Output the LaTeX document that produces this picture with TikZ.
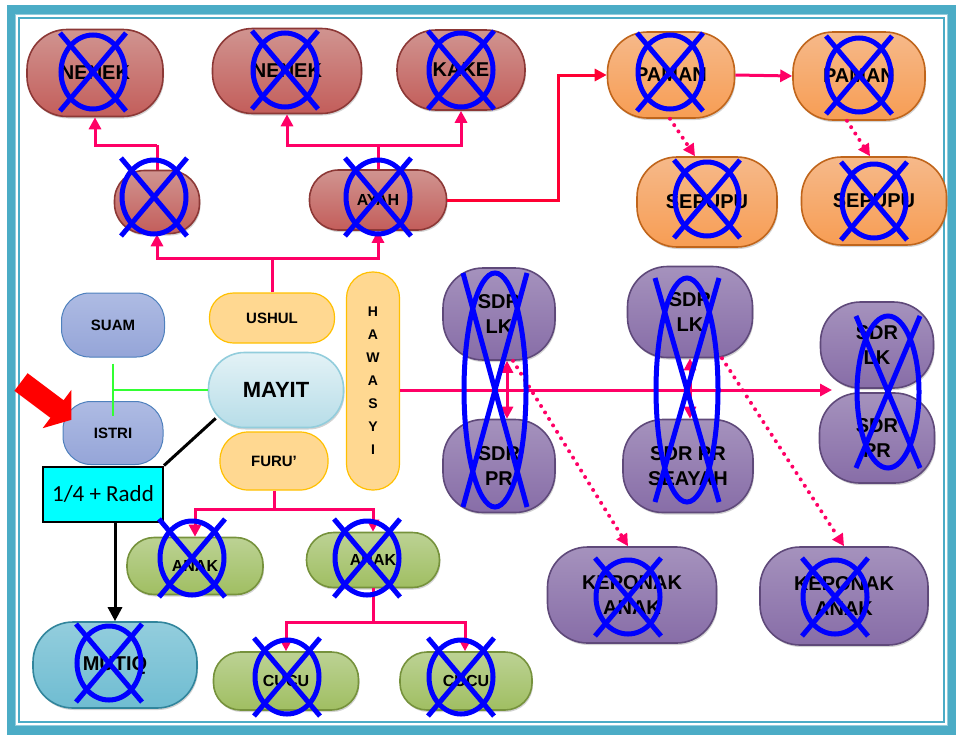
\documentclass[tikz,border=0pt]{standalone}
\usepackage{fontspec}
\setmainfont{Liberation Sans}
\newfontfamily\carlito{Carlito}
\usetikzlibrary{arrows.meta,shadows}
\definecolor{frdTeal}{HTML}{4BACC6}
\definecolor{frdTealDark}{HTML}{31859C}
\definecolor{frdRed}{HTML}{C0504D}
\definecolor{frdRedDark}{HTML}{8C3836}
\definecolor{frdRedLight}{HTML}{D09490}
\definecolor{frdOrange}{HTML}{F79646}
\definecolor{frdOrangeDark}{HTML}{C0651B}
\definecolor{frdOrangeLight}{HTML}{F6B98A}
\definecolor{frdPurple}{HTML}{8064A2}
\definecolor{frdPurpleDark}{HTML}{5F497A}
\definecolor{frdPurpleLight}{HTML}{A592BD}
\definecolor{frdGreen}{HTML}{9BBB59}
\definecolor{frdGreenDark}{HTML}{76923C}
\definecolor{frdGreenLight}{HTML}{BCD294}
\definecolor{frdLav}{HTML}{95A5D8}
\definecolor{frdLavDark}{HTML}{4F81BD}
\definecolor{frdLavLight}{HTML}{AEBBE3}
\definecolor{frdSand}{HTML}{FFD891}
\definecolor{frdSandDark}{HTML}{FFC000}
\definecolor{frdIce}{HTML}{B7DDE8}
\definecolor{frdIceLight}{HTML}{E3F2F6}
\definecolor{frdIceDark}{HTML}{92CDDC}
\definecolor{frdPink}{HTML}{FF0066}
\definecolor{frdLine}{HTML}{FF0033}
\definecolor{frdCross}{HTML}{0000FF}
\definecolor{frdLime}{HTML}{33FF33}
\definecolor{frdCyan}{HTML}{00FFFF}
\tikzset{
  frd pill/.style={draw, line width=0.8pt, rounded corners=20pt, align=center, inner sep=1pt,
    font=\bfseries\fontsize{10}{12.5}\selectfont,
    drop shadow={opacity=0.35, shadow xshift=0.5pt, shadow yshift=-1pt}},
  frd red/.style={frd pill, draw=frdRedDark, top color=frdRedLight, middle color=frdRed, bottom color=frdRed!80!frdRedLight},
  frd orange/.style={frd pill, draw=frdOrangeDark, top color=frdOrangeLight, middle color=frdOrange, bottom color=frdOrange!80!frdOrangeLight},
  frd purple/.style={frd pill, draw=frdPurpleDark, top color=frdPurpleLight, middle color=frdPurple, bottom color=frdPurple!80!frdPurpleLight},
  frd green/.style={frd pill, rounded corners=13.5pt, draw=frdGreenDark, top color=frdGreenLight, middle color=frdGreen, bottom color=frdGreen!85!frdGreenLight},
  frd teal/.style={frd pill, draw=frdTealDark, top color=frdTeal!60!white, middle color=frdTeal, bottom color=frdTeal!80!white},
  frd lav/.style={draw=frdLavDark, line width=0.5pt, rounded corners=14pt, fill=frdLav, top color=frdLavLight, bottom color=frdLav,
    font=\bfseries\fontsize{7.5}{9}\selectfont},
  frd sand/.style={draw=frdSandDark, line width=0.6pt, rounded corners=12pt, fill=frdSand,
    font=\bfseries\fontsize{7.5}{9}\selectfont},
  frd small/.style={font=\bfseries\fontsize{8}{9}\selectfont},
  frd link/.style={draw=frdPink, line width=1.5pt},
  frd arrow/.style={frd link, -{Triangle[length=6pt,width=6pt]}},
  frd dots/.style={frd link, line width=2pt, dash pattern=on 0pt off 3.8pt, line cap=round, -{Triangle[length=6pt,width=6pt]}},
  frd marriage/.style={draw=frdLime, line width=1pt},
  frd black/.style={draw=black, line width=1.5pt},
  frd cross/.style={draw=frdCross, line width=2.5pt},
}
% circle with an X over it
\newcommand{\frdcoret}[1]{%
  \draw[frd cross] #1 ellipse [x radius=16pt, y radius=18.5pt];
  \draw[frd cross] #1 ++(-16.5pt,19.5pt) -- ++(33pt,-39pt);
  \draw[frd cross] #1 ++(16.5pt,19.5pt) -- ++(-33pt,-39pt);
}
% long ellipse with an X over a pair of boxes
\newcommand{\frdcoretpanjang}[2]{%
  \draw[frd cross] #1 ellipse [x radius=15.5pt, y radius=#2*0.5pt];
  \draw[frd cross] #1 ++(-16pt,#2*0.5pt) -- ++(32pt,-#2*1pt);
  \draw[frd cross] #1 ++(16pt,#2*0.5pt) -- ++(-32pt,-#2*1pt);
}

\begin{document}
\begin{tikzpicture}[x=0.5pt,y=-0.5pt]
  \useasboundingbox (0,0) rectangle (956,734);
  % frame
  \draw[frdTeal, line width=4.5pt] (11,9) rectangle (951,730);
  \draw[frdTeal!60!white, line width=0.5pt] (15.5,14) rectangle (947,725.5);
  \draw[frdTeal, line width=0.8pt] (19,18) rectangle (944,722);

  % ushul side
  \node[frd red, minimum width=68pt, minimum height=43.5pt] (nenekA) at (95,73) {NENEK};
  \node[frd red, minimum width=74.5pt, minimum height=42.5pt] (nenekB) at (287,71) {NENEK};
  \node[frd red, rounded corners=19.5pt, minimum width=64pt, minimum height=40pt] (kakek) at (461,70) {KAKE};
  \node[frd red, rounded corners=15pt, minimum width=42.5pt, minimum height=31.5pt] (ibu) at (157,202) {};
  \node[frd red, frd small, rounded corners=14.5pt, minimum width=68.5pt, minimum height=30pt] (ayah) at (378,200) {AYAH};

  % paman and sepupu
  \node[frd orange, minimum width=63.5pt, minimum height=43pt] (pamanA) at (671,75) {PAMAN};
  \node[frd orange, minimum width=66pt, minimum height=44pt] (pamanB) at (859,76) {PAMAN};
  \node[frd orange, minimum width=70pt, minimum height=45pt] (sepupuA) at (707,202) {SEPUPU};
  \node[frd orange, minimum width=72.5pt, minimum height=44pt] (sepupuB) at (874,201) {SEPUPU};

  % centre
  \node[frd lav, minimum width=51.5pt, minimum height=32pt] (suami) at (113,325) {SUAM};
  \node[frd lav, minimum width=50pt, minimum height=31.5pt] (istri) at (113,433) {ISTRI};
  \node[frd sand, minimum width=62.5pt, minimum height=25pt] (ushul) at (272,318) {USHUL};
  \node[draw=frdIceDark, line width=0.8pt, rounded corners=18pt, top color=frdIceLight, bottom color=frdIce,
        minimum width=67.5pt, minimum height=37.5pt, font=\bfseries\fontsize{11}{12}\selectfont,
        drop shadow={opacity=0.35, shadow xshift=0.5pt, shadow yshift=-1pt}] (mayit) at (276,390) {MAYIT};
  \node[frd sand, rounded corners=14pt, minimum width=54pt, minimum height=29pt] (furu) at (274,461) {FURU'};
  \node[frd sand, rounded corners=13pt, minimum width=26.5pt, minimum height=109pt, align=center,
        font=\bfseries\fontsize{7}{11.5}\selectfont] (hawasyi) at (373,381) {H\\A\\W\\A\\S\\Y\\I};
  \node[draw=black, line width=1pt, fill=frdCyan, minimum width=60pt, minimum height=27.5pt,
        font=\carlito\fontsize{11.5}{12}\selectfont] (radd) at (103,494) {1/4 + Radd};
  \node[frd teal, minimum width=82pt, minimum height=43pt] (mutiq) at (115,665) {MUTIQ};

  % furu' side
  \node[frd green, frd small, minimum width=68pt, minimum height=28.5pt] (anakA) at (195,566) {ANAK};
  \node[frd green, frd small, minimum width=66.5pt, minimum height=27.5pt] (anakB) at (373,560) {ANAK};
  \node[frd green, frd small, minimum width=72.5pt, minimum height=29pt] (cucuA) at (286,681) {CUCU};
  \node[frd green, frd small, minimum width=66pt, minimum height=29pt] (cucuB) at (466,681) {CUCU};

  % hawasyi side
  \node[frd purple, minimum width=56pt, minimum height=46pt] (sdrLkA) at (499,314) {SDR\\LK};
  \node[frd purple, minimum width=56pt, minimum height=46.5pt] (sdrPrA) at (499,466) {SDR\\PR};
  \node[frd purple, minimum width=62.5pt, minimum height=45.5pt] (sdrLkB) at (690,312) {SDR\\LK};
  \node[frd purple, minimum width=65pt, minimum height=46.5pt] (sdrPrB) at (688,466) {SDR PR\\SEAYAH};
  \node[frd purple, minimum width=56.5pt, minimum height=43pt] (sdrLkC) at (877,345) {SDR\\LK};
  \node[frd purple, minimum width=57.5pt, minimum height=45pt] (sdrPrC) at (877,438) {SDR\\PR};
  \node[frd purple, minimum width=84.5pt, minimum height=48pt] (keponakA) at (632,595) {KEPONAK\\ANAK};
  \node[frd purple, minimum width=84pt, minimum height=49pt] (keponakB) at (844,596) {KEPONAK\\ANAK};

  % up the ushul line
  \coordinate (jUshul) at (272,258);
  \draw[frd link] (ushul.north) -- (jUshul);
  \draw[frd arrow] (jUshul) -| (ibu.south);
  \draw[frd arrow] (jUshul) -| (ayah.south);
  \coordinate (jIbu) at (157,145);
  \draw[frd link] (ibu.north) -- (jIbu);
  \draw[frd arrow] (jIbu) -| (nenekA.south);
  \coordinate (jAyah) at (378,145);
  \draw[frd link] (ayah.north) -- (jAyah);
  \draw[frd arrow] (jAyah) -| (nenekB.south);
  \draw[frd arrow] (jAyah) -| (kakek.south);

  % ayah to paman
  \coordinate (jPaman) at (558,200);
  \draw[frd arrow, draw=frdLine] (ayah.east) -- (jPaman) |- (pamanA.west);
  \draw[frd arrow] (pamanA.east) -- (pamanB.west);
  \draw[frd dots] ([xshift=-0.5pt]pamanA.south) -- ([xshift=-6pt]sepupuA.north);
  \draw[frd dots] ([xshift=-6pt]pamanB.south) -- ([xshift=-2pt]sepupuB.north);

  % spouse and radd
  \draw[frd marriage] (mayit.west) -- (mayit.west -| suami.south);
  \draw[frd marriage] ([yshift=-3pt]suami.south) -- ([yshift=-7.5pt]istri.north);
  \draw[frd black] ([xshift=4pt,yshift=5pt]mayit.south west) -- (radd.north east);
  \draw[frd black, -{Triangle[length=7pt,width=7pt]}] (radd.south -| mutiq.north) -- (mutiq.north);
  \fill[red] (27.6,373.2) -- (63.6,400.2) -- (71.4,389.8) -- (71.4,419.8)
    -- (42.6,428.2) -- (50.4,417.8) -- (14.4,390.8) -- cycle;

  % down the furu' line
  \coordinate (jFuru) at (274,509);
  \draw[frd link] (furu.south) -- (jFuru);
  \draw[frd arrow] (jFuru) -| (anakA.north);
  \draw[frd arrow] (jFuru) -| (anakB.north);
  \coordinate (jAnak) at (373,622);
  \draw[frd link] (anakB.south) -- (jAnak);
  \draw[frd arrow] (jAnak) -| (cucuA.north);
  \draw[frd arrow] (jAnak) -| ([xshift=-0.5pt]cucuB.north);

  % hawasyi line
  \coordinate (endHawasyi) at (832,390);
  \draw[frd arrow] (hawasyi.east |- mayit.center) -- (endHawasyi);
  \draw[frd arrow, {Triangle[length=6pt,width=6pt]}-{Triangle[length=6pt,width=6pt]}]
    ([xshift=4pt]sdrLkA.south) -- ([xshift=4pt]sdrPrA.north);
  \draw[frd arrow, {Triangle[length=6pt,width=6pt]}-{Triangle[length=6pt,width=6pt]}]
    (sdrLkB.south) -- (sdrPrB.north -| sdrLkB.south);
  \draw[frd dots] ([xshift=7pt]sdrLkA.south) -- ([xshift=-2pt]keponakA.north);
  \draw[frd dots] ([xshift=16pt]sdrLkB.south) -- (keponakB.north);

  % crossed out
  \frdcoret{(93,72)}
  \frdcoret{(285,70)}
  \frdcoret{(461,70)}
  \frdcoret{(154,197)}
  \frdcoret{(378,197)}
  \frdcoret{(670,72)}
  \frdcoret{(859,75)}
  \frdcoret{(707,199)}
  \frdcoret{(874,201)}
  \frdcoret{(192,558)}
  \frdcoret{(367,558)}
  \frdcoret{(287,677)}
  \frdcoret{(461,677)}
  \frdcoret{(109,663)}
  \frdcoret{(628,597)}
  \frdcoret{(835,597)}
  \frdcoretpanjang{(495,390)}{117}
  \frdcoretpanjang{(687,390)}{112}
  \frdcoretpanjang{(888,392)}{76}
\end{tikzpicture}
\end{document}
